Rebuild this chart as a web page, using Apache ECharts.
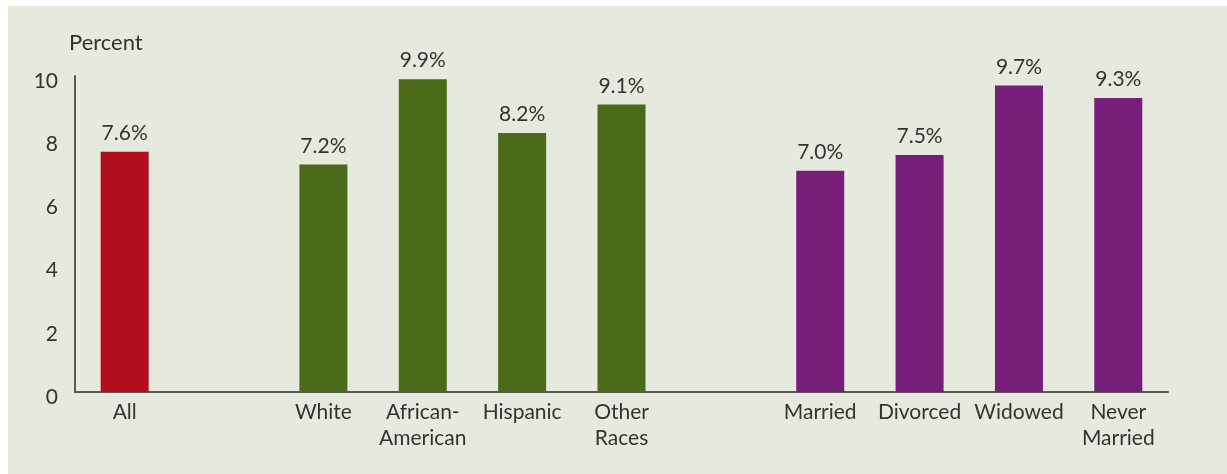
<!DOCTYPE html>
<html>
<head>
<meta charset="utf-8">
<script src="https://cdn.jsdelivr.net/npm/echarts@6/dist/echarts.min.js"></script>
<style>
  html, body { margin: 0; padding: 0; background: #ffffff; }
  #chart { position: absolute; left: 8px; top: 6px; width: 1219px; height: 468px; background: #e6e9dd; }
</style>
</head>
<body>
<div id="chart"></div>
<script>
// data (blank slots are the gaps between groups)
var categories = ['All', '', 'White', 'African-\nAmerican', 'Hispanic', 'Other\nRaces', '',
                  'Married', 'Divorced', 'Widowed', 'Never\nMarried'];
var values = [7.6, null, 7.2, 9.9, 8.2, 9.1, null, 7.0, 7.5, 9.7, 9.3];
var groups = ['all', '', 'race', 'race', 'race', 'race', '', 'marital', 'marital', 'marital', 'marital'];
var yTicks = [0, 2, 4, 6, 8, 10];

var groupColor = { all: '#b30e1e', race: '#4c6b18', marital: '#771e7a' };
var font = 'Lato, "Open Sans", sans-serif';
var fs = 21;

var barData = values.map(function (v, i) {
    if (v === null) return '-';
    return { value: v, itemStyle: { color: groupColor[groups[i]] } };
});

var chart = echarts.init(document.getElementById('chart'));
chart.setOption({
    animation: false,
    grid: { left: 67, right: 59, top: 70, bottom: 82 },
    xAxis: {
        type: 'category',
        data: categories,
        axisLine: { lineStyle: { color: '#5a5a55', width: 2 } },
        axisTick: { show: false },
        axisLabel: {
            color: '#333333', fontFamily: font, fontSize: fs,
            lineHeight: 26, margin: 7, interval: 0
        }
    },
    yAxis: {
        type: 'value',
        min: yTicks[0],
        max: yTicks[yTicks.length - 1],
        interval: 2,
        name: 'Percent',
        nameLocation: 'end',
        nameGap: 22,
        nameTextStyle: { color: '#333333', fontFamily: font, fontSize: 22, align: 'left', padding: [0, 0, 0, -6] },
        axisLine: { show: true, lineStyle: { color: '#5a5a55', width: 2 } },
        axisTick: { show: false },
        splitLine: { show: false },
        axisLabel: {
            color: '#333333', fontFamily: font, fontSize: fs, margin: 17,
            verticalAlign: 'top', lineHeight: 10
        }
    },
    series: [{
        type: 'bar',
        data: barData,
        barWidth: 48,
        label: {
            show: true,
            position: 'top',
            distance: 8,
            color: '#333333',
            fontFamily: font,
            fontSize: fs,
            formatter: function (p) { return p.value.toFixed(1) + '%'; }
        }
    }]
});
window.onresize = function () { chart.resize(); };
</script>
</body>
</html>
